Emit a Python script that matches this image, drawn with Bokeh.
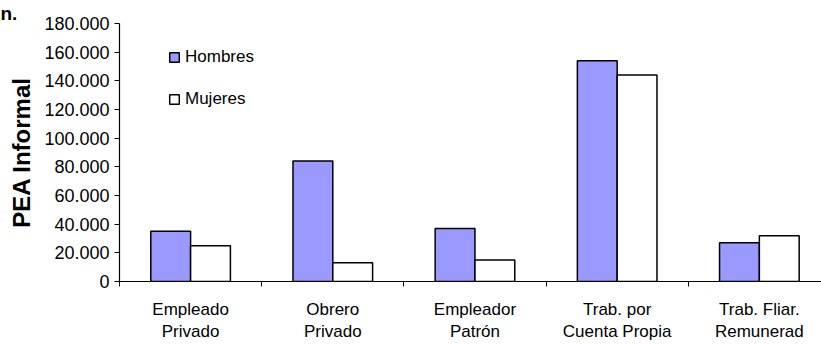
from bokeh.plotting import figure
from bokeh.models import (ColumnDataSource, FixedTicker, Legend, LegendItem,
                          Range1d)
from bokeh.embed import file_html
from bokeh.resources import INLINE

# Informal workforce (PEA informal) by occupational category and sex
categories = ["Empleado\nPrivado", "Obrero\nPrivado", "Empleador\nPatrón",
              "Trab. por\nCuenta Propia", "Trab. Fliar.\nRemunerad"]
hombres = [35000, 84000, 37000, 154000, 27000]
mujeres = [25000, 13000, 15000, 144000, 32000]
y_ticks = [0, 20000, 40000, 60000, 80000, 100000, 120000, 140000, 160000, 180000]
y_tick_labels = ["0", "20.000", "40.000", "60.000", "80.000", "100.000",
                 "120.000", "140.000", "160.000", "180.000"]

FONT = "Liberation Sans"
BAR_W = 0.28

idx = list(range(len(categories)))
centers = [i + 0.5 for i in idx]
src_h = ColumnDataSource(dict(x=[c - BAR_W / 2 for c in centers], top=hombres))
src_m = ColumnDataSource(dict(x=[c + BAR_W / 2 for c in centers], top=mujeres))

p = figure(width=821, height=344, output_backend="svg", toolbar_location=None,
           x_range=Range1d(0, 4.937), y_range=Range1d(0, 180000),
           min_border_left=119, min_border_right=0, min_border_top=0,
           min_border_bottom=62, title="n.")
p.outline_line_color = None
p.background_fill_color = "white"

# tail end of the heading, top-left
p.title.align = "left"
p.title.offset = -119
p.title.standoff = 0
p.title.text_font = FONT
p.title.text_font_size = "19px"
p.title.text_font_style = "bold"
p.title.text_color = "black"

rh = p.vbar(x="x", top="top", width=BAR_W, source=src_h,
            fill_color="#9999FF", line_color="black", line_width=1.5)
rm = p.vbar(x="x", top="top", width=BAR_W, source=src_m,
            fill_color="white", line_color="black", line_width=1.5)

# x axis: labels at category centres, ticks at category boundaries
xa = p.xaxis[0]
xa.ticker = FixedTicker(ticks=centers, minor_ticks=[0, 1, 2, 3, 4, 5])
xa.major_label_overrides = {c: lab for c, lab in zip(centers, categories)}
xa.major_tick_line_color = None
xa.minor_tick_line_color = "black"
xa.minor_tick_out = 5
xa.minor_tick_in = 0
xa.axis_line_color = "black"
xa.axis_line_width = 1.2
xa.major_label_text_font = FONT
xa.major_label_text_font_size = "17px"
xa.major_label_text_color = "black"
xa.major_label_standoff = 12

# y axis
ya = p.yaxis[0]
ya.ticker = FixedTicker(ticks=y_ticks)
ya.major_label_overrides = {t: s for t, s in zip(y_ticks, y_tick_labels)}
ya.axis_line_color = "black"
ya.axis_line_width = 1.2
ya.major_tick_line_color = "black"
ya.major_tick_out = 5
ya.major_tick_in = 0
ya.minor_tick_line_color = None
ya.major_label_text_font = FONT
ya.major_label_text_font_size = "18px"
ya.major_label_text_color = "black"
ya.axis_label = "PEA Informal"
ya.axis_label_text_font = FONT
ya.axis_label_text_font_size = "24px"
ya.axis_label_text_font_style = "bold"
ya.axis_label_text_color = "black"
ya.axis_label_standoff = 6

# only the top gridline is drawn
p.xgrid.grid_line_color = None
p.ygrid.ticker = FixedTicker(ticks=[180000])
p.ygrid.grid_line_color = "#808080"
p.ygrid.grid_line_width = 1.5

legend = Legend(items=[LegendItem(label="Hombres", renderers=[rh]),
                       LegendItem(label="Mujeres", renderers=[rm])],
                location=(49, 172), orientation="vertical",
                border_line_color=None, background_fill_alpha=0,
                padding=0, margin=0, spacing=22,
                glyph_width=12, glyph_height=12, label_standoff=5,
                label_text_font=FONT, label_text_font_size="17px",
                label_text_color="black")
p.add_layout(legend, "center")

open("out.html", "w").write(file_html(p, INLINE))
